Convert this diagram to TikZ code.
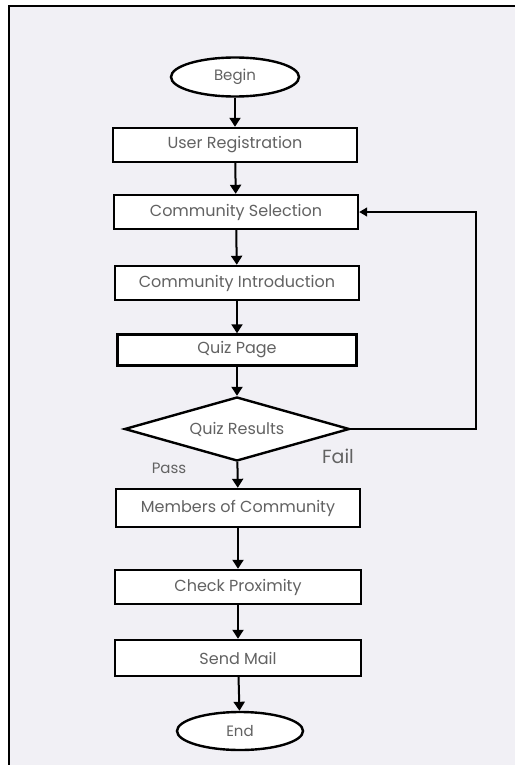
\documentclass[tikz,border=0pt]{standalone}
\usepackage{fontspec}
\setmainfont{Poppins}
\usetikzlibrary{arrows.meta,shapes.geometric}
\definecolor{pagebg}{HTML}{F1F0F5}
\definecolor{labelgray}{HTML}{626262}

\begin{document}
\begin{tikzpicture}[x=1pt,y=-1pt]
\tikzset{
  procbox/.style={rectangle,draw,line width=2.4pt,fill=white,minimum width=244pt,minimum height=34pt,inner sep=1pt,font=\fontsize{16}{18}\selectfont,text=labelgray},
  termnode/.style={ellipse,draw,line width=2.4pt,fill=white,minimum width=128pt,minimum height=39pt,inner sep=1pt,font=\fontsize{15}{18}\selectfont,text=labelgray},
  decision/.style={diamond,draw,line width=2.4pt,fill=white,aspect=3.5,minimum width=225pt,minimum height=64pt,inner sep=0pt,font=\fontsize{16}{18}\selectfont,text=labelgray},
  flow/.style={-{Triangle[length=9pt,width=11pt]},line width=2pt},
  loopback/.style={-{Triangle[length=8pt,width=9pt]},line width=1.3pt}
}
\useasboundingbox (0,0) rectangle (515,765);
\fill[pagebg] (9,6) rectangle (515,765);
\draw[line width=2.5pt] (9,765) -- (9,6) -- (515,6);
\node[termnode] (n_begin) at (235,77) {Begin};
\node[procbox] (n_reg) at (235,145) {User Registration};
\node[procbox] (n_sel) at (236,212) {Community Selection};
\node[procbox] (n_intro) at (237,283) {Community Introduction};
\node[procbox,minimum width=239pt,minimum height=31pt] (n_quiz) at (237,350) {Quiz Page};
\node[decision] (n_res) at (237,429) {Quiz Results};
\node[procbox,minimum height=38pt] (n_mem) at (238,508) {Members of Community};
\node[procbox,minimum width=246pt] (n_prox) at (238,587) {Check Proximity};
\node[procbox,minimum width=246pt,minimum height=36pt] (n_mail) at (238,658) {Send Mail};
\node[termnode,minimum width=126pt,minimum height=38pt] (n_end) at (240,731) {End};
\node[font=\fontsize{15}{18}\selectfont,text=labelgray] (l_pass) at (169,468) {Pass};
\node[font=\fontsize{19}{22}\selectfont,text=labelgray] (l_fail) at (338,456) {Fail};
\coordinate (c_right) at (476,429);
\coordinate (c_top) at (476,212);
\draw[flow] (n_begin) -- (n_reg);
\draw[flow] (n_reg) -- (n_sel);
\draw[flow] (n_sel) -- (n_intro);
\draw[flow] (n_intro) -- (n_quiz);
\draw[flow] (n_quiz) -- (n_res);
\draw[flow] (n_res) -- (n_mem);
\draw[flow] (n_mem) -- (n_prox);
\draw[flow] (n_prox) -- (n_mail);
\draw[flow] (n_mail) -- (n_end);
\draw[loopback] (n_res.east) -- (c_right) -- (c_top) -- (n_sel.east);
\end{tikzpicture}
\end{document}
